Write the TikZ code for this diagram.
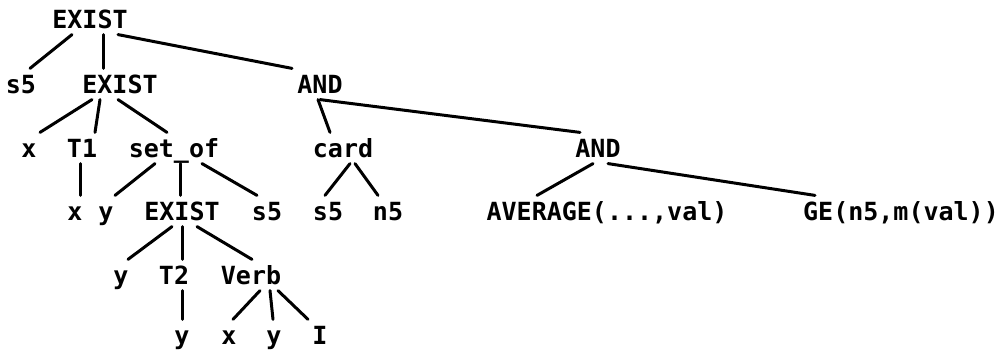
\documentclass[tikz,border=0pt]{standalone}
\usepackage{fontspec}
\newfontfamily\treefont{DejaVu Sans Mono}

\begin{document}
\begin{tikzpicture}[x=0.5pt, y=-0.5pt, line width=1.5pt, line cap=round,
    every node/.style={font=\treefont\bfseries\fontsize{12.5}{15}\selectfont,
        text height=9.1pt, text depth=0pt, inner xsep=0pt, inner ysep=2.5pt}]
            \useasboundingbox (0,0) rectangle (1004,351);

            \node (e0) at (90, 19) {EXIST};

            \node (s5a) at (21, 84) {s5};
            \node (e1) at (120, 84) {EXIST};
            \node (and1) at (320, 84) {AND};

            \node (x2) at (29, 148) {x};
            \node (t1) at (82, 148) {T1};
            \node (setof) at (174, 148) {set\_of};
            \node (card) at (343, 148) {card};
            \node (and2) at (598, 148) {AND};

            \node (x3) at (75, 211) {x};
            \node (y3) at (106, 211) {y};
            \node (e3) at (182, 211) {EXIST};
            \node (s5b) at (267, 211) {s5};
            \node (s5c) at (328, 211) {s5};
            \node (n5) at (388, 211) {n5};
            \node (avg) at (607, 211) {AVERAGE(...,val)};
            \node (ge) at (901, 211) {GE(n5,m(val))};

            \node (y4) at (121, 275) {y};
            \node (t2) at (174, 275) {T2};
            \node (verb) at (251, 275) {Verb};

            \node (y5) at (182, 335) {y};
            \node (x5) at (229, 335) {x};
            \node (y5b) at (274, 335) {y};
            \node (i5) at (320, 335) {I};

            \draw ([xshift=-9pt]e0.south) -- ([xshift=4.5pt]s5a.north);
            \draw ([xshift=6.5pt]e0.south) -- ([xshift=-8.5pt]e1.north);
            \draw ([xshift=14pt]e0.south) -- ([xshift=-14pt]and1.north);

            \draw ([xshift=-14pt]e1.south) -- ([xshift=5.5pt]x2.north);
            \draw ([xshift=-10pt]e1.south) -- ([xshift=6.5pt]t1.north);
            \draw ([xshift=-1pt]e1.south) -- ([xshift=-3.5pt]setof.north);
            \draw ([xshift=-1pt]and1.south) -- ([xshift=-6.5pt]card.north);
            \draw (and1.south) -- ([xshift=-9pt]and2.north);

            \draw ([xshift=-1pt]t1.south) -- ([xshift=2.5pt]x3.north);
            \draw ([xshift=-9.5pt]setof.south) -- ([xshift=4.5pt]y3.north);
            \draw ([xshift=3pt]setof.south) -- ([xshift=-1pt]e3.north);
            \draw ([xshift=14pt]setof.south) -- ([xshift=-5pt]s5b.north);
            \draw ([xshift=3.5pt]card.south) -- ([xshift=-1.5pt]s5c.north);
            \draw ([xshift=6pt]card.south) -- ([xshift=-5pt]n5.north);
            \draw ([xshift=-2.5pt]and2.south) -- ([xshift=-35pt]avg.north);
            \draw ([xshift=5pt]and2.south) -- ([xshift=-43pt]ge.north);

            \draw ([xshift=-5pt]e3.south) -- ([xshift=3.5pt]y4.north);
            \draw (e3.south) -- ([xshift=4pt]t2.north);
            \draw ([xshift=7.5pt]e3.south) -- ([xshift=0.5pt]verb.north);

            \draw ([xshift=4pt]t2.south) -- (y5.north);
            \draw ([xshift=4.5pt]verb.south) -- ([xshift=2pt]x5.north);
            \draw ([xshift=9.5pt]verb.south) -- ([xshift=-0.5pt]y5b.north);
            \draw ([xshift=13.5pt]verb.south) -- ([xshift=-6pt]i5.north);
        \end{tikzpicture}
\end{document}
